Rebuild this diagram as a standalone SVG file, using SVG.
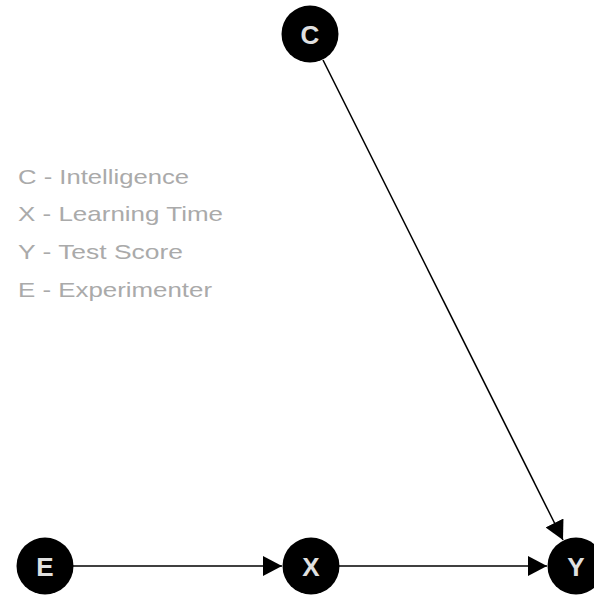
<svg xmlns="http://www.w3.org/2000/svg" width="594" height="595" viewBox="0 0 594 595">
<style>
.node circle{fill:#000;}
.node text{fill:#e0e0e0;font-family:"Liberation Sans",Arial,sans-serif;font-weight:bold;font-size:26px;text-anchor:middle;}
.legend{fill:#aaaaaa;font-family:"Liberation Sans",Arial,sans-serif;font-size:21px;}
.edge{stroke:#000;stroke-width:1.5;fill:none;marker-end:url(#arr);}
</style>
<defs>
<marker id="arr" markerWidth="20" markerHeight="20" refX="19" refY="10" orient="auto" markerUnits="userSpaceOnUse">
<path d="M0,0 L19,10 L0,20 Z" fill="#000"/>
</marker>
</defs>
<rect width="594" height="595" fill="#fff"/>
<g id="connectors">
<line class="edge" x1="73" y1="566" x2="282" y2="566"/>
<line class="edge" x1="339" y1="566" x2="547" y2="566"/>
<line class="edge" x1="323" y1="60" x2="563" y2="540"/>
</g>
<g id="C" class="node"><circle cx="310" cy="34" r="28.5"/><text x="310" y="43.5">C</text></g>
<g id="E" class="node"><circle cx="45" cy="566" r="28.5"/><text x="45" y="575.5">E</text></g>
<g id="X" class="node"><circle cx="311" cy="566" r="28.5"/><text x="311" y="575.5">X</text></g>
<g id="Y" class="node"><circle cx="576" cy="566" r="28.5"/><text x="576" y="575.5">Y</text></g>
<g id="legend">
<text class="legend" x="18" y="184" textLength="171" lengthAdjust="spacingAndGlyphs">C - Intelligence</text>
<text class="legend" x="18" y="221" textLength="205" lengthAdjust="spacingAndGlyphs">X - Learning Time</text>
<text class="legend" x="18" y="259" textLength="165" lengthAdjust="spacingAndGlyphs">Y - Test Score</text>
<text class="legend" x="18" y="297" textLength="194" lengthAdjust="spacingAndGlyphs">E - Experimenter</text>
</g>
</svg>
